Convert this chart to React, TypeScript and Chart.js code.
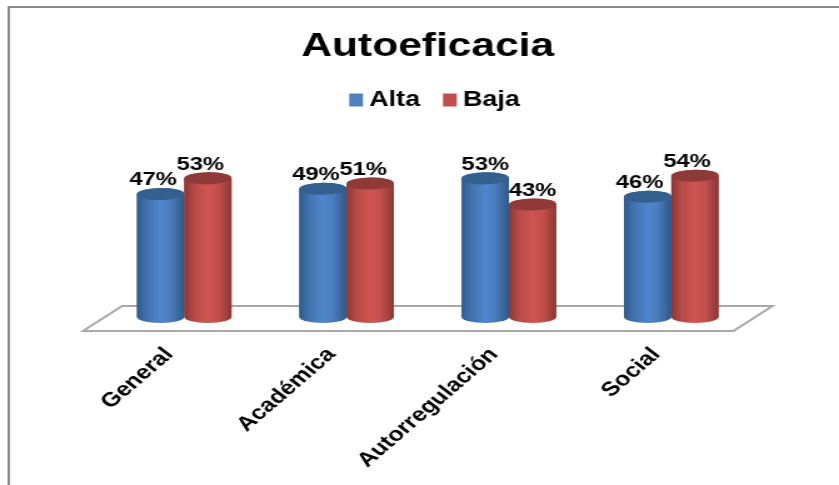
import React, { useEffect, useRef } from "react";
import { Chart, registerables } from "chart.js";

Chart.register(...registerables);

const chartTitle = "Autoeficacia";
const categories = ["General", "Académica", "Autorregulación", "Social"];
const altaValues = [47, 49, 53, 46];
const bajaValues = [53, 51, 43, 54];

const FONT = "'Liberation Sans', Arial, sans-serif";
// The reference is a picture stretched sideways: the chart is drawn narrower and widened by CSS.
const CANVAS_W = 671;
const STRETCH = 839 / CANVAS_W;
const LABEL_SHIFT = [-6, -5.6, 0, -6.4];
const LEGEND_SHIFT = 2.5;

const shades: Record<string, string[]> = {
  "#4f81bd": ["#2f5a8c", "#4273ae", "#4f86cc", "#4a7cbc", "#2f5886", "#33608f"],
  "#c0504d": ["#8a3836", "#b54a47", "#cf5552", "#c24f4c", "#8a3735", "#8f3a38"],
};

const cylinderPlugin = {
  id: "cylinders",
  afterLayout(chart: any) {
    const lg = chart.legend;
    if (lg) {
      lg.left += LEGEND_SHIFT;
      lg.right += LEGEND_SHIFT;
    }
  },
  beforeDraw(chart: any) {
    const { ctx, scales } = chart;
    const y0 = scales.y.getPixelForValue(0);
    const l = scales.x.left;
    const r = scales.x.right;
    ctx.save();
    ctx.strokeStyle = "#8a8a8a";
    ctx.lineWidth = 2;
    ctx.beginPath();
    ctx.moveTo(7, chart.height);
    ctx.lineTo(7, 7);
    ctx.lineTo(chart.width, 7);
    ctx.stroke();
    ctx.strokeStyle = "#a8a8a8";
    ctx.beginPath();
    ctx.moveTo(l - 16, y0 + 14);
    ctx.lineTo(l + 15.2, y0 - 11);
    ctx.lineTo(r + 16, y0 - 11);
    ctx.lineTo(r - 15.2, y0 + 14);
    ctx.closePath();
    ctx.stroke();
    ctx.restore();
  },
  afterDatasetsDraw(chart: any) {
    const { ctx } = chart;
    ctx.save();
    chart.data.datasets.forEach((ds: any, di: number) => {
      const s = shades[ds.backgroundColor];
      chart.getDatasetMeta(di).data.forEach((bar: any) => {
        const rx = bar.width / 2;
        const ry = 6;
        const g = ctx.createLinearGradient(bar.x - rx, 0, bar.x + rx, 0);
        [0, 0.2, 0.5, 0.72, 1].forEach((p, k) => g.addColorStop(p, s[k]));
        ctx.fillStyle = g;
        ctx.beginPath();
        ctx.moveTo(bar.x - rx, bar.y);
        ctx.lineTo(bar.x - rx, bar.base);
        ctx.ellipse(bar.x, bar.base, rx, ry, 0, Math.PI, 0, true);
        ctx.lineTo(bar.x + rx, bar.y);
        ctx.ellipse(bar.x, bar.y, rx, ry, 0, 0, Math.PI, true);
        ctx.closePath();
        ctx.fill();
        ctx.fillStyle = s[5];
        ctx.beginPath();
        ctx.ellipse(bar.x, bar.y, rx, ry, -0.03, 0, Math.PI * 2);
        ctx.fill();
      });
    });
    chart.data.datasets.forEach((ds: any, di: number) => {
      chart.getDatasetMeta(di).data.forEach((bar: any, i: number) => {
        ctx.fillStyle = "#000";
        ctx.font = `bold 19px ${FONT}`;
        ctx.textAlign = "center";
        ctx.textBaseline = "middle";
        ctx.fillText(`${ds.data[i]}%`, bar.x + LABEL_SHIFT[i], bar.y - 14);
      });
    });
    ctx.restore();
  },
  afterDraw(chart: any) {
    // Legend swatches sit closer to their text than Chart.js places them.
    const { ctx, legend } = chart;
    ctx.save();
    legend.legendHitBoxes.forEach((box: any, i: number) => {
      ctx.fillStyle = chart.data.datasets[i].backgroundColor;
      ctx.fillRect(box.left + LEGEND_SHIFT + 3.4, box.top + (box.height - 13) / 2, 11, 13);
    });
    ctx.restore();
  },
};

export default function App() {
  const ref = useRef<HTMLCanvasElement>(null);
  useEffect(() => {
    const chart = new Chart(ref.current!, {
      type: "bar",
      data: {
        labels: categories,
        datasets: [
          { label: "Alta", data: altaValues, backgroundColor: "#4f81bd" },
          { label: "Baja", data: bajaValues, backgroundColor: "#c0504d" },
        ],
      },
      options: {
        responsive: false,
        animation: false,
        layout: { padding: { left: 82.4, right: 69.2, top: 20, bottom: 0 } },
        datasets: { bar: { categoryPercentage: 0.583, barPercentage: 1 } },
        plugins: {
          title: {
            display: true,
            text: chartTitle,
            color: "#000",
            font: { family: FONT, size: 34, weight: "bold", lineHeight: 1.2 },
            padding: { top: 6, bottom: 10 },
          },
          legend: {
            display: true,
            position: "top",
            labels: {
              color: "#000",
              font: { family: FONT, size: 21.6, weight: "bold" },
              boxWidth: 11,
              boxHeight: 13,
              padding: 12.4,
              generateLabels(chart: any) {
                return Chart.defaults.plugins.legend.labels
                  .generateLabels(chart)
                  .map((item: any) => ({ ...item, fillStyle: "rgba(0,0,0,0)", strokeStyle: "rgba(0,0,0,0)" }));
              },
            },
          },
          tooltip: { enabled: false },
        },
        scales: {
          x: {
            grid: { display: false },
            border: { display: false },
            afterFit(scale: any) {
              scale.height = 168;
            },
            ticks: {
              color: "#000",
              font: { family: FONT, size: 20, weight: "bold" },
              minRotation: 47,
              maxRotation: 47,
              labelOffset: -12,
              padding: 18,
              autoSkip: false,
            },
          },
          y: { display: false, min: 0, max: 75 },
        },
      },
      plugins: [cylinderPlugin],
    } as any);
    return () => chart.destroy();
  }, []);
  return (
    <div style={{ position: "absolute", left: 0, top: 0, width: 839, height: 485, overflow: "hidden", background: "#fff" }}>
      <canvas
        ref={ref}
        width={CANVAS_W}
        height={485}
        style={{ display: "block", transformOrigin: "0 0", transform: `scaleX(${STRETCH})` }}
      />
    </div>
  );
}
